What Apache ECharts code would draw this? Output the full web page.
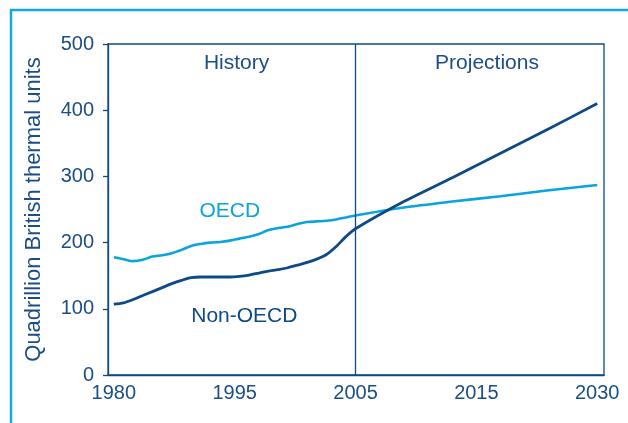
<!DOCTYPE html>
<html>
<head>
<meta charset="utf-8">
<script src="https://cdn.jsdelivr.net/npm/echarts@6/dist/echarts.min.js"></script>
<style>
  html, body { margin: 0; padding: 0; background: #fff; }
  #chart { width: 628px; height: 423px; }
</style>
</head>
<body>
<div id="chart"></div>
<script>
var years = [1980, 1981, 1982, 1983, 1984, 1985, 1986, 1987, 1988, 1989,
             1990, 1991, 1992, 1993, 1994, 1995, 1996, 1997, 1998, 1999,
             2000, 2001, 2002, 2003, 2004, 2005,
             2010, 2015, 2020, 2025, 2030];
var oecd = [178, 175, 172, 174, 179, 181, 184, 189, 195, 198,
            200, 201, 203, 206, 209, 213, 219, 222, 224, 228,
            231, 232, 233, 235, 238, 241,
            253, 262, 270, 279, 287];
var nonOecd = [107, 109, 114, 120, 126, 132, 138, 143, 147, 148,
               148, 148, 148, 149, 151, 154, 157, 159, 162, 166,
               170, 175, 182, 194, 209, 221,
               262, 298, 335, 372, 410];
var tickLabels = ['1980', '1995', '2005', '2015', '2030'];
var yTicks = [0, 100, 200, 300, 400, 500];

var dark = '#0d4a85';
var light = '#0aa4dd';
var textColor = '#1b4d86';
var font = '"Liberation Sans", Arial, sans-serif';

function $(sel) {
    return document.querySelector(sel);
}

var myChart = echarts.init($('#chart'));

function pairs(vals) {
    return years.map(function(y, i) { return [y, vals[i]]; });
}

// tick labels are spread evenly over the year span, like the original
var first = years[0], last = years[years.length - 1];
var step = (last - first) / (tickLabels.length - 1);
var labelAt = tickLabels.map(function(t, i) { return first + i * step; });

var option = {
    animation: false,
    textStyle: { fontFamily: font },
    graphic: [{
        type: 'rect',
        shape: { x: 11, y: 10, width: 700, height: 500 },
        style: { fill: 'none', stroke: '#14a8e0', lineWidth: 2.5 },
        silent: true
    }],
    grid: {
        left: 108, right: 24, top: 44, bottom: 48,
        show: true, borderColor: dark, borderWidth: 1.3
    },
    xAxis: {
        type: 'value',
        min: 1979.4,
        max: 2030.7,
        axisLine: { lineStyle: { color: dark, width: 1.3 } },
        axisTick: { show: false },
        splitLine: { show: false },
        axisLabel: {
            customValues: labelAt,
            color: textColor,
            fontSize: 20,
            margin: 8,
            formatter: function(v) {
                return tickLabels[Math.round((v - first) / step)];
            }
        }
    },
    yAxis: {
        type: 'value',
        min: yTicks[0],
        max: yTicks[yTicks.length - 1],
        interval: 100,
        name: 'Quadrillion British thermal units',
        nameLocation: 'middle',
        nameGap: 63,
        nameTextStyle: { color: textColor, fontSize: 22 },
        axisLine: { show: true, lineStyle: { color: dark, width: 1.3 } },
        axisTick: { show: true, length: 5, lineStyle: { color: dark, width: 1.3 } },
        splitLine: { show: false },
        axisLabel: { color: textColor, fontSize: 20, margin: 14 }
    },
    series: [{
        name: 'OECD',
        type: 'line',
        data: pairs(oecd),
        smooth: 0.3,
        showSymbol: false,
        lineStyle: { color: light, width: 2.6 },
        markPoint: {
            symbolSize: 0,
            label: { show: true, position: 'inside', color: light, fontSize: 21, fontFamily: font },
            data: [{ coord: [1992, 248], value: 'OECD' }]
        }
    }, {
        name: 'Non-OECD',
        type: 'line',
        data: pairs(nonOecd),
        smooth: 0.3,
        showSymbol: false,
        lineStyle: { color: dark, width: 2.8 },
        markLine: {
            silent: true,
            symbol: 'none',
            label: { show: false },
            lineStyle: { color: dark, width: 1.3, type: 'solid' },
            data: [{ xAxis: 2005 }]
        },
        markPoint: {
            symbolSize: 0,
            label: { show: true, position: 'inside', color: dark, fontSize: 21, fontFamily: font,
                formatter: function(p) { return p.name; } },
            data: [
                { name: 'Non-OECD', coord: [1993.5, 89] },
                { name: 'History', coord: [1992.7, 471], label: { color: textColor } },
                { name: 'Projections', coord: [2018.6, 471], label: { color: textColor } }
            ]
        }
    }]
};
myChart.setOption(option);
</script>
</body>
</html>
